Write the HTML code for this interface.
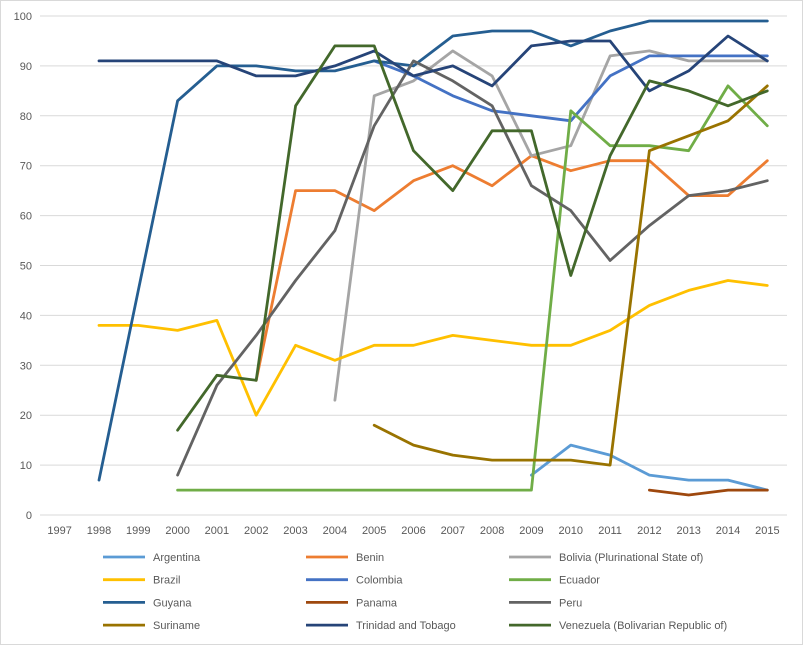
<!DOCTYPE html>
<html><head><meta charset="utf-8"><style>
body{margin:0;background:#fff;font-family:"Liberation Sans",sans-serif;}
svg text{font-family:"Liberation Sans",sans-serif;font-size:11px;fill:#595959;}
</style></head><body>
<svg id="chart" width="803" height="645" xmlns="http://www.w3.org/2000/svg">
<rect x="0.5" y="0.5" width="802" height="644" fill="#fff" stroke="#d9d9d9"/>
<g id="grid"></g><g id="axes"></g><g id="series"></g><g id="legend"></g>
</svg>
<script>
const years=[1997,1998,1999,2000,2001,2002,2003,2004,2005,2006,2007,2008,2009,2010,2011,2012,2013,2014,2015];
const yTicks=[0,10,20,30,40,50,60,70,80,90,100];
const N=null;
const argentina=[N,N,N,N,N,N,N,N,N,N,N,N,8,14,12,8,7,7,5];
const benin=[N,N,N,N,N,27,65,65,61,67,70,66,72,69,71,71,64,64,71];
const bolivia=[N,N,N,N,N,N,N,23,84,87,93,88,72,74,92,93,91,91,91];
const brazil=[N,38,38,37,39,20,34,31,34,34,36,35,34,34,37,42,45,47,46];
const colombia=[N,N,N,N,N,N,N,N,91,88,84,81,80,79,88,92,92,92,92];
const ecuador=[N,N,N,5,5,5,5,5,5,5,5,5,5,81,74,74,73,86,78];
const guyana=[N,7,45,83,90,90,89,89,91,90,96,97,97,94,97,99,99,99,99];
const panama=[N,N,N,N,N,N,N,N,N,N,N,N,N,N,N,5,4,5,5];
const peru=[N,N,N,8,26,36,47,57,78,91,87,82,66,61,51,58,64,65,67];
const suriname=[N,N,N,N,N,N,N,N,18,14,12,11,11,11,10,73,76,79,86];
const trinidad=[N,91,91,91,91,88,88,90,93,88,90,86,94,95,95,85,89,96,91];
const venezuela=[N,N,N,17,28,27,82,94,94,73,65,77,77,48,72,87,85,82,85];
const names=["Argentina","Benin","Bolivia (Plurinational State of)","Brazil","Colombia","Ecuador","Guyana","Panama","Peru","Suriname","Trinidad and Tobago","Venezuela (Bolivarian Republic of)"];
const seriesData=[argentina,benin,bolivia,brazil,colombia,ecuador,guyana,panama,peru,suriname,trinidad,venezuela];
const colors=["#5b9bd5","#ed7d31","#a5a5a5","#ffc000","#4472c4","#70ad47","#255e91","#9e480e","#636363","#997300","#264478","#43682b"];
const NS="http://www.w3.org/2000/svg";
const L=40,R=787,T=16,B=515;
const bw=(R-L)/years.length;
const xS=i=>L+bw*(i+0.5);
const yS=v=>B-(v/100)*(B-T);
function mk(t,a,p){const e=document.createElementNS(NS,t);for(const k in a)e.setAttribute(k,a[k]);p.appendChild(e);return e;}
const grid=document.getElementById('grid'),axes=document.getElementById('axes'),ser=document.getElementById('series'),leg=document.getElementById('legend');
yTicks.forEach(v=>{
 const g=mk('line',{x1:L,x2:R,y1:yS(v),y2:yS(v),stroke:'#d9d9d9','stroke-width':1},grid);
 
 
 const t=mk('text',{x:L-8,y:yS(v)+4,'text-anchor':'end'},axes);t.textContent=v;
 
 
});
years.forEach((y,i)=>{
 const t=mk('text',{x:xS(i),y:B+19,'text-anchor':'middle'},axes);t.textContent=y;
 
 
});
seriesData.forEach((d,s)=>{
 let path='',pen=false;
 d.forEach((v,i)=>{if(v===null){pen=false;return;}path+=(pen?'L':'M')+xS(i).toFixed(1)+','+yS(v).toFixed(1);pen=true;});
 const p=mk('path',{d:path,fill:'none',stroke:colors[s],'stroke-width':2.8,'stroke-linejoin':'round','stroke-linecap':'round'},ser);
 
 
 const col=s%3,row=Math.floor(s/3);
 const lx=103+col*203,ly=557+row*22.7;
 const g=mk('g',{},leg);
 
 
 mk('line',{x1:lx,x2:lx+42,y1:ly,y2:ly,stroke:colors[s],'stroke-width':2.8},g);
 const t=mk('text',{x:lx+50,y:ly+4},g);t.textContent=names[s];
});
</script>
</body></html>
